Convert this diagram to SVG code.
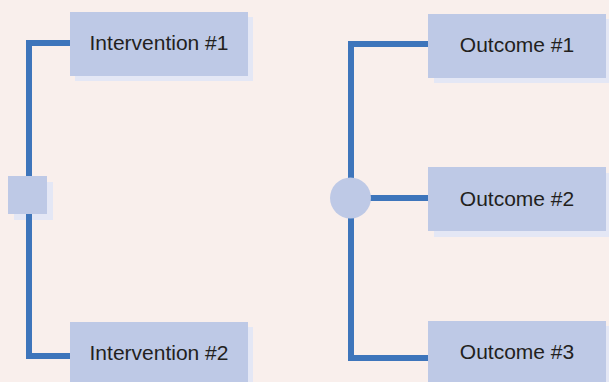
<svg xmlns="http://www.w3.org/2000/svg" width="609" height="382" viewBox="0 0 609 382">
  <style>
    .bg { fill: #f9efec; }
    .box { fill: #bec9e6; }
    .shadow { fill: #e4e7f5; }
    .link { fill: none; stroke: #3e75bb; stroke-width: 6; }
    .label { font-family: "Liberation Sans", Arial, sans-serif; font-size: 21px; fill: #231f20; text-anchor: middle; }
  </style>
  <rect class="bg" x="0" y="0" width="609" height="382"/>

  <!-- decision node shadow sits under the tree lines -->
  <rect class="shadow" x="14" y="182" width="39" height="38"/>

  <g id="connectors">
    <path class="link" d="M70,43 H29 V356 H70"/>
    <path class="link" d="M428,44 H351 V358 H428"/>
    <path class="link" d="M351,198 H428"/>
  </g>

  <g id="decision">
    <rect class="box" x="8" y="176" width="39" height="38"/>
  </g>

  <g id="chance">
    <circle class="box" cx="350.5" cy="198" r="20.5"/>
  </g>

  <g id="intervention1">
    <rect class="shadow" x="75" y="17" width="178" height="64"/>
    <rect class="box" x="70" y="12" width="178" height="64"/>
    <text class="label" x="159" y="50">Intervention #1</text>
  </g>

  <g id="intervention2">
    <rect class="shadow" x="75" y="327" width="178" height="64"/>
    <rect class="box" x="70" y="322" width="178" height="64"/>
    <text class="label" x="159" y="360">Intervention #2</text>
  </g>

  <g id="outcome1">
    <rect class="shadow" x="434" y="19" width="178" height="64"/>
    <rect class="box" x="428" y="14" width="178" height="64"/>
    <text class="label" x="517" y="52">Outcome #1</text>
  </g>

  <g id="outcome2">
    <rect class="shadow" x="434" y="173" width="178" height="64"/>
    <rect class="box" x="428" y="167" width="178" height="64"/>
    <text class="label" x="517" y="206">Outcome #2</text>
  </g>

  <g id="outcome3">
    <rect class="shadow" x="434" y="326" width="178" height="64"/>
    <rect class="box" x="428" y="321" width="178" height="64"/>
    <text class="label" x="517" y="359">Outcome #3</text>
  </g>
</svg>
